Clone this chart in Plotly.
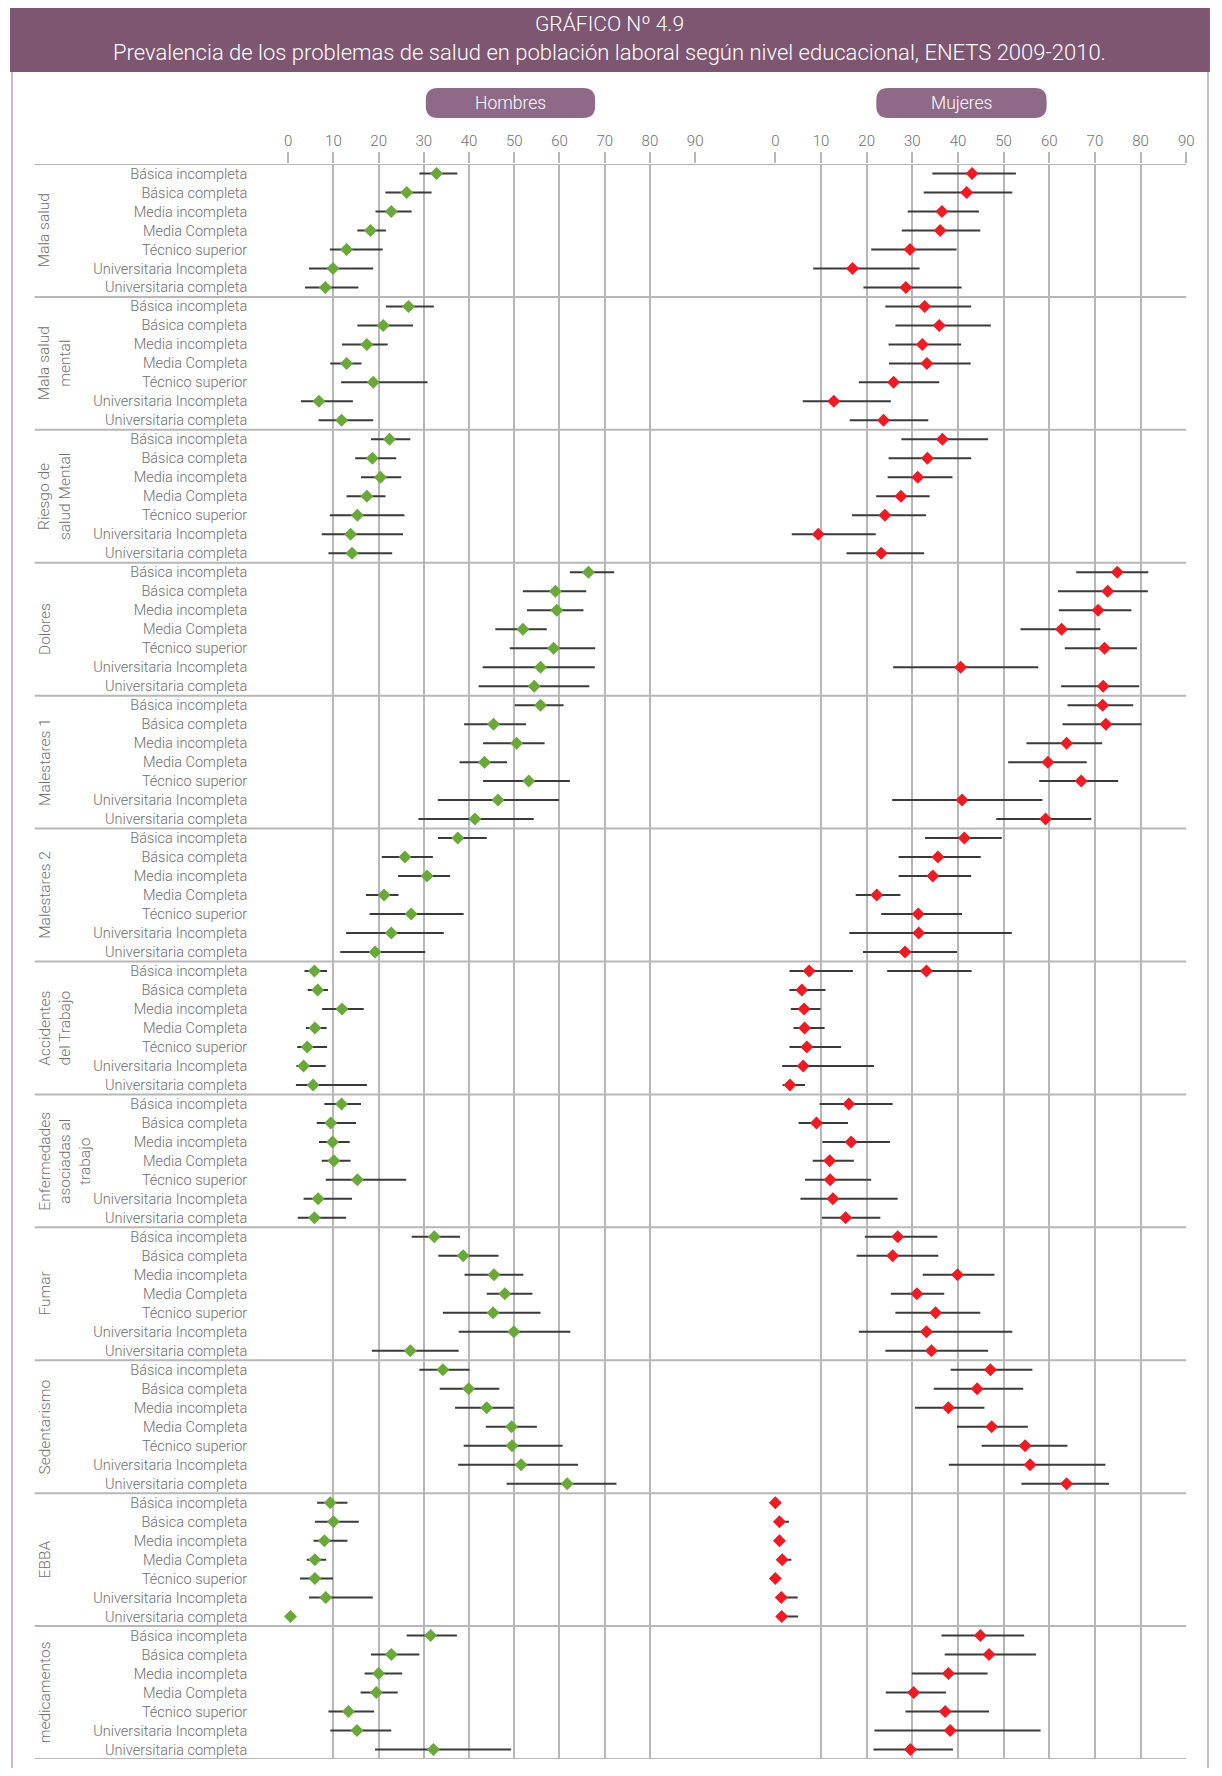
import plotly.graph_objects as go

# La página html añade 8 px de margen por cada lado: la figura se hace más pequeña y se desplaza
OFF = 8
W, H = 1222 - 2 * OFF, 1776 - 2 * OFF

COLORS = {
    'header': '#7E5672',
    'pill': '#8F6A88',
    'frame': '#CBB8C8',
    'hombres': '#6AA83A',
    'mujeres': '#EC1C24',
    'bar': '#3A3A3A',
    'grid': '#B7B7B7',
    'text': '#6F6F6F',
}
FONT = 'Roboto, Open Sans, sans-serif'
PESO = 300

NIVELES = ['Básica incompleta', 'Básica completa', 'Media incompleta', 'Media Completa',
           'Técnico superior', 'Universitaria Incompleta', 'Universitaria completa']

PROBLEMAS = ['Mala salud', 'Mala salud<br>mental', 'Riesgo de<br>salud Mental', 'Dolores',
             'Malestares 1', 'Malestares 2', 'Accidentes<br>del Trabajo',
             'Enfermedades<br>asociadas al<br>trabajo', 'Fumar', 'Sedentarismo', 'EBBA',
             'medicamentos']

TICKS_X = [0, 10, 20, 30, 40, 50, 60, 70, 80, 90]

# Prevalencia (%) e intervalo de confianza, un bloque por problema
hombres_prev = [
    [32.8, 26.2, 22.8, 18.2, 12.9, 9.9, 8.2],
    [26.6, 21.0, 17.4, 12.9, 18.8, 6.8, 11.8],
    [22.4, 18.6, 20.4, 17.4, 15.3, 13.8, 14.1],
    [66.4, 59.1, 59.4, 51.9, 58.7, 55.8, 54.4],
    [55.8, 45.4, 50.5, 43.4, 53.2, 46.4, 41.3],
    [37.5, 25.8, 30.7, 21.2, 27.2, 22.8, 19.2],
    [5.8, 6.5, 11.9, 5.9, 4.2, 3.4, 5.5],
    [11.8, 9.4, 9.8, 10.1, 15.3, 6.6, 5.8],
    [32.3, 38.7, 45.5, 47.9, 45.3, 49.9, 27.0],
    [34.2, 39.9, 43.9, 49.4, 49.5, 51.5, 61.7],
    [9.3, 10.0, 8.0, 5.9, 5.9, 8.3, 0.5],
    [31.5, 22.8, 20.0, 19.5, 13.3, 15.2, 32.1],
]
hombres_inf = [
    [29.0, 21.5, 19.3, 15.3, 9.2, 4.6, 3.7],
    [21.6, 15.3, 11.9, 9.3, 11.7, 2.8, 6.7],
    [18.3, 14.8, 16.1, 12.9, 9.2, 7.4, 8.9],
    [62.3, 51.9, 52.8, 45.8, 49.0, 43.0, 42.1],
    [50.1, 38.9, 43.1, 37.9, 43.1, 33.1, 28.8],
    [33.1, 20.7, 24.3, 17.2, 18.0, 12.8, 11.5],
    [3.6, 4.3, 7.5, 3.9, 2.0, 1.8, 1.7],
    [8.0, 6.3, 6.8, 7.4, 8.3, 3.4, 2.1],
    [27.3, 33.2, 39.0, 43.9, 34.2, 37.7, 18.5],
    [29.0, 33.5, 36.9, 43.7, 38.8, 37.6, 48.3],
    [6.4, 5.9, 5.6, 4.1, 2.6, 4.6, 0.0],
    [26.2, 18.3, 16.9, 16.0, 8.9, 9.3, 19.2],
]
hombres_sup = [
    [37.4, 31.7, 27.3, 21.6, 20.9, 18.8, 15.5],
    [32.2, 27.6, 22.0, 16.2, 30.8, 14.3, 18.8],
    [27.0, 23.9, 25.0, 21.5, 25.7, 25.4, 23.0],
    [72.1, 65.9, 65.3, 57.2, 67.9, 67.8, 66.6],
    [60.9, 52.6, 56.7, 48.4, 62.3, 59.9, 54.3],
    [43.9, 32.0, 35.8, 24.4, 38.8, 34.4, 30.3],
    [8.6, 8.8, 16.7, 8.5, 8.6, 8.3, 17.4],
    [16.1, 15.0, 13.6, 13.8, 26.1, 14.1, 12.8],
    [38.0, 46.5, 52.0, 54.0, 55.8, 62.4, 37.7],
    [40.1, 46.7, 49.9, 55.0, 60.7, 64.1, 72.6],
    [13.1, 15.6, 13.1, 8.4, 9.9, 18.7, 1.0],
    [37.3, 29.0, 25.2, 24.2, 19.0, 22.8, 49.3],
]

mujeres_prev = [
    [43.1, 41.9, 36.5, 36.1, 29.5, 16.9, 28.6],
    [32.7, 35.9, 32.2, 33.2, 25.9, 12.8, 23.7],
    [36.6, 33.3, 31.2, 27.5, 24.0, 9.4, 23.2],
    [74.9, 72.8, 70.7, 62.7, 72.1, 40.6, 71.8],
    [71.7, 72.4, 63.8, 59.7, 67.0, 40.9, 59.2],
    [41.4, 35.6, 34.5, 22.2, 31.3, 31.4, 28.4],
    [7.4, 5.8, 6.3, 6.4, 6.9, 6.1, 3.2],
    [16.1, 9.0, 16.6, 11.9, 12.0, 12.6, 15.4],
    [26.8, 25.7, 39.9, 31.0, 35.1, 33.1, 34.2],
    [47.1, 44.2, 37.9, 47.4, 54.7, 55.8, 63.8],
    [0.0, 0.9, 0.9, 1.5, 0.0, 1.3, 1.4],
    [44.9, 46.8, 37.9, 30.3, 37.2, 38.3, 29.6],
]
mujeres_inf = [
    [34.4, 32.5, 29.0, 27.7, 21.0, 8.3, 19.3],
    [24.1, 26.3, 24.8, 24.9, 18.3, 6.0, 16.3],
    [27.6, 24.8, 24.6, 22.1, 16.8, 3.6, 15.6],
    [65.9, 61.9, 62.1, 53.7, 63.4, 25.8, 62.6],
    [64.0, 62.9, 55.0, 51.0, 57.8, 25.6, 48.4],
    [32.8, 27.0, 27.0, 17.6, 23.2, 16.2, 19.2],
    [3.1, 3.1, 3.4, 4.0, 3.1, 1.5, 1.6],
    [9.7, 5.1, 10.3, 8.2, 6.5, 5.5, 10.2],
    [19.6, 17.8, 32.3, 25.3, 26.3, 18.3, 24.1],
    [38.4, 34.7, 30.6, 39.8, 45.2, 38.0, 53.9],
    [0.0, 0.3, 0.4, 0.8, 0.0, 0.5, 0.6],
    [36.4, 37.1, 29.9, 24.2, 28.5, 21.7, 21.5],
]
mujeres_sup = [
    [52.7, 51.9, 44.6, 44.9, 39.7, 31.6, 40.8],
    [42.9, 47.2, 40.7, 42.8, 35.9, 25.3, 33.5],
    [46.6, 42.9, 38.8, 33.8, 33.0, 22.0, 32.6],
    [81.7, 81.6, 78.0, 71.2, 79.2, 57.6, 79.7],
    [78.4, 80.2, 71.6, 68.2, 75.1, 58.5, 69.2],
    [49.6, 45.0, 42.9, 27.4, 40.9, 51.8, 39.8],
    [17.0, 11.0, 9.9, 10.8, 14.4, 21.6, 6.5],
    [25.7, 15.9, 25.1, 17.2, 21.0, 26.8, 23.0],
    [35.5, 35.7, 48.0, 37.0, 44.9, 51.9, 46.6],
    [56.3, 54.3, 45.8, 55.3, 64.0, 72.3, 73.1],
    [0.5, 3.0, 1.6, 3.5, 0.3, 4.9, 5.0],
    [54.5, 57.1, 46.5, 37.4, 46.8, 58.1, 38.9],
]

# Punto adicional que aparece en Accidentes del Trabajo / Básica incompleta (mujeres)
extra_fila = [6 * 7 + 0]
extra_prev = [33.1]
extra_inf = [24.5]
extra_sup = [43.0]


def px_x(x):
    return (x - OFF) / W


def px_y(y):
    return 1 - (y - OFF) / H


def pill_path(x0, y0, x1, y1, r):
    """Rectángulo redondeado en coordenadas de papel"""
    pts = [
        ('M', x0 + r, y0), ('L', x1 - r, y0), ('Q', x1, y0, x1, y0 + r),
        ('L', x1, y1 - r), ('Q', x1, y1, x1 - r, y1), ('L', x0 + r, y1),
        ('Q', x0, y1, x0, y1 - r), ('L', x0, y0 + r), ('Q', x0, y0, x0 + r, y0),
    ]
    out = ''
    for p in pts:
        cmd, coords = p[0], p[1:]
        pairs = [f'{px_x(coords[i]):.5f},{px_y(coords[i + 1]):.5f}' for i in range(0, len(coords), 2)]
        out += cmd + ' '.join(pairs) + ' '
    return out + 'Z'


def flat(block):
    return [v for grp in block for v in grp]


n_grp = len(PROBLEMAS)
n_niv = len(NIVELES)
filas = list(range(n_grp * n_niv))

# Geometría en píxeles de la imagen original
TOP, BOTTOM = 164, 1759
X0_H, X90_H = 287, 698
X0_M, X90_M = 779, 1194

fig = go.Figure()


def add_series(x_axis, prev, inf, sup, color, y=None):
    prev_f = flat(prev) if isinstance(prev[0], list) else prev
    inf_f = flat(inf) if isinstance(inf[0], list) else inf
    sup_f = flat(sup) if isinstance(sup[0], list) else sup
    fig.add_trace(go.Scatter(
        x=prev_f,
        y=y if y is not None else filas,
        xaxis=x_axis,
        yaxis='y',
        mode='markers',
        marker=dict(symbol='diamond', size=10, color=color, line=dict(width=0)),
        error_x=dict(
            type='data', symmetric=False,
            array=[s - p for s, p in zip(sup_f, prev_f)],
            arrayminus=[p - i for p, i in zip(prev_f, inf_f)],
            color=COLORS['bar'], thickness=2, width=0,
        ),
        cliponaxis=False,
        showlegend=False,
        hoverinfo='x',
    ))


add_series('x', hombres_prev, hombres_inf, hombres_sup, COLORS['hombres'])
add_series('x2', mujeres_prev, mujeres_inf, mujeres_sup, COLORS['mujeres'])
add_series('x2', extra_prev, extra_inf, extra_sup, COLORS['mujeres'], y=extra_fila)

axis_common = dict(
    range=[0, 90], tickvals=TICKS_X, side='top', anchor='y',
    showgrid=True, gridcolor=COLORS['grid'], gridwidth=1.5,
    zeroline=False, showline=False,
    ticks='outside', ticklen=11, tickcolor=COLORS['grid'], tickwidth=1.5,
    tickfont=dict(family=FONT, size=15, color=COLORS['text'], weight=PESO),
    fixedrange=True,
)

shapes = []
# Marco general y cabecera
shapes.append(dict(type='rect', xref='paper', yref='paper',
                   x0=px_x(8), x1=px_x(1216), y0=px_y(1800), y1=px_y(6),
                   line=dict(color=COLORS['frame'], width=2), layer='below'))
shapes.append(dict(type='rect', xref='paper', yref='paper',
                   x0=px_x(6), x1=px_x(1218), y0=px_y(72), y1=px_y(6),
                   fillcolor=COLORS['header'], line=dict(width=0), layer='below'))
# Etiquetas Hombres / Mujeres
for x0, x1 in [(426, 597), (881, 1053)]:
    shapes.append(dict(type='path', xref='paper', yref='paper',
                       path=pill_path(x0, 88, x1, 118, 12),
                       fillcolor=COLORS['pill'], line=dict(width=0), layer='below'))
# Separadores de grupos
for g in range(n_grp + 1):
    shapes.append(dict(type='line', xref='paper', yref='y',
                       x0=px_x(31), x1=px_x(X90_M),
                       y0=g * n_niv - 0.5, y1=g * n_niv - 0.5,
                       line=dict(color=COLORS['grid'], width=2), layer='below'))


def header_text(text, x, y, size):
    return dict(text=text, x=px_x(x), y=px_y(y), xref='paper', yref='paper',
                xanchor='center', yanchor='middle', showarrow=False,
                font=dict(family=FONT, size=size, color='white', weight=PESO))


annotations = [
    header_text('GRÁFICO Nº 4.9', 611, 24, 21),
    header_text('Prevalencia de los problemas de salud en población laboral según nivel '
                'educacional, ENETS 2009-2010.', 611, 52, 22),
    header_text('Hombres', 511.5, 103, 17.5),
    header_text('Mujeres', 967, 103, 17.5),
]
for g, nombre in enumerate(PROBLEMAS):
    annotations.append(dict(
        text=nombre, textangle=-90, x=px_x(30), xanchor='left',
        y=g * n_niv + (n_niv - 1) / 2, yref='y', xref='paper', yanchor='middle',
        showarrow=False, align='center',
        font=dict(family=FONT, size=15.5, color=COLORS['text'], weight=PESO),
    ))

fig.update_layout(
    width=W, height=H,
    margin=dict(l=0, r=0, t=0, b=0),
    paper_bgcolor='white', plot_bgcolor='rgba(0,0,0,0)',
    xaxis=dict(domain=[px_x(X0_H), px_x(X90_H)], **axis_common),
    xaxis2=dict(domain=[px_x(X0_M), px_x(X90_M)], **axis_common),
    yaxis=dict(
        domain=[px_y(BOTTOM), px_y(TOP)], anchor='x',
        range=[n_grp * n_niv - 0.5, -0.5],
        tickvals=filas, ticktext=NIVELES * n_grp,
        showgrid=False, zeroline=False, showline=False, ticks='',
        ticklabelstandoff=40,
        tickfont=dict(family=FONT, size=14.5, color=COLORS['text'], weight=PESO),
        fixedrange=True,
    ),
    shapes=shapes,
    annotations=annotations,
    font=dict(family=FONT),
)

fig.write_html('out.html')
